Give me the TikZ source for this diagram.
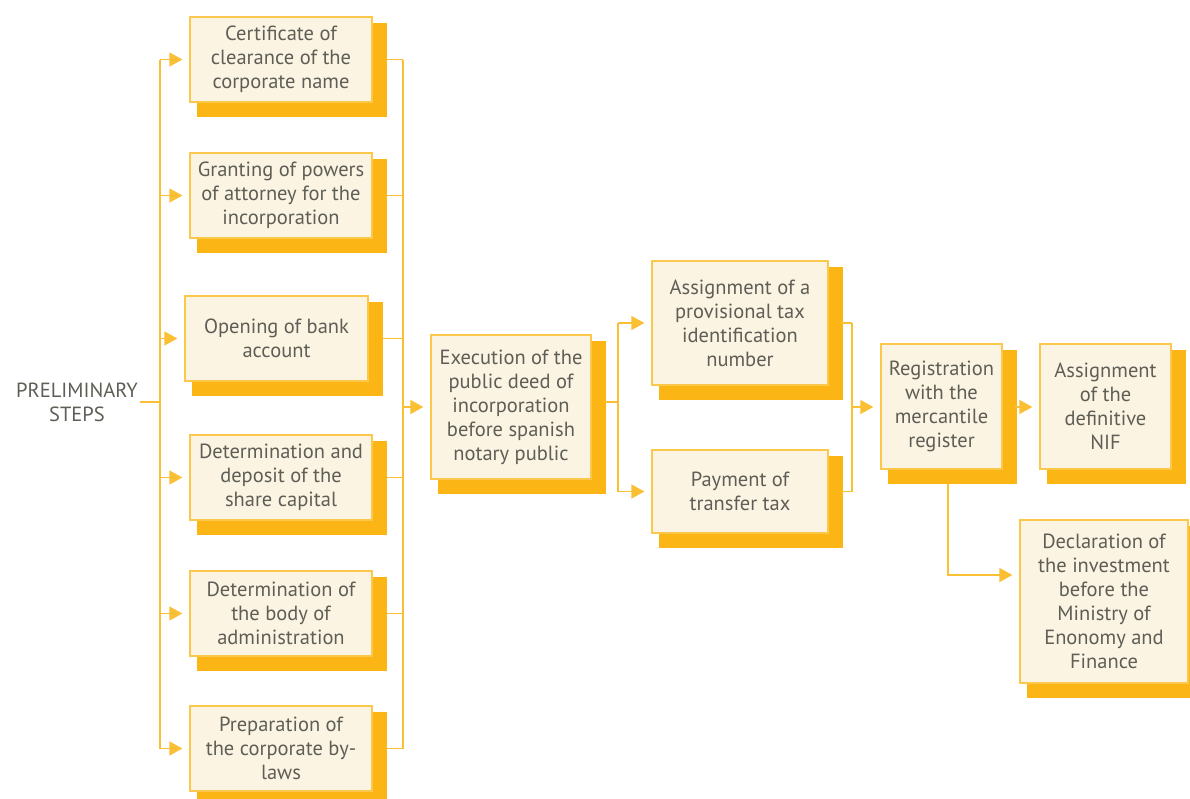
\documentclass[tikz,border=0pt]{standalone}
\usepackage{fontspec}
\setmainfont{PT Sans}
\usetikzlibrary{arrows.meta,backgrounds}
\definecolor{fillc}{HTML}{FCF4E3}
\definecolor{edgec}{HTML}{FCC84C}
\definecolor{shadc}{HTML}{FBB616}
\definecolor{linec}{HTML}{FBBF33}
\definecolor{txtc}{HTML}{5E5E56}
\tikzset{
  box/.style={draw=edgec, line width=1.3pt, fill=fillc, text=txtc, align=center, inner sep=0pt, font=\fontsize{20.5}{24}\selectfont},
  conn/.style={draw=linec, line width=1.4pt},
  arr/.style={conn, -{Triangle[length=13pt,width=14pt]}, shorten >=7pt}
}
\newcommand\bx[6]{%
  \node[box, minimum width=#4pt-#2pt, minimum height=#5pt-#3pt] (#1) at ({(#2+#4)/2},{(#3+#5)/2}) {#6};
  \begin{scope}[on background layer]
    \fill[shadc] ([shift={(8pt,-7pt)}]#1.north west) rectangle ([shift={(14pt,-14pt)}]#1.south east);
  \end{scope}}
\begin{document}
\begin{tikzpicture}[x=1pt,y=-1pt]
\useasboundingbox (0,0) rectangle (1190,798);
\bx{c1}{190}{17}{372}{102}{Certificate of\\clearance of the\\corporate name}
\bx{c2}{190}{153}{372}{238}{Granting of powers\\of attorney for the\\incorporation}
\bx{c3}{185}{296}{368}{381}{Opening of bank\\account}
\bx{c4}{190}{435}{372}{520}{Determination and\\deposit of the\\share capital}
\bx{c5}{190}{571}{372}{656}{Determination of\\the body of\\administration}
\bx{c6}{190}{706}{372}{791}{Preparation of\\the corporate by-\\laws}
\bx{ex}{431}{335}{591}{479}{Execution of the\\public deed of\\incorporation\\before spanish\\notary public}
\bx{ap}{652}{261}{828}{385}{Assignment of a\\provisional tax\\identification\\number}
\bx{pt}{652}{450}{828}{533}{Payment of\\transfer tax}
\bx{rg}{881}{344}{1002}{469}{Registration\\with the\\mercantile\\register}
\bx{nf}{1040}{344}{1171}{469}{Assignment\\of the\\definitive\\NIF}
\bx{dc}{1020}{520}{1188}{683}{Declaration of\\the investment\\before the\\Ministry of\\Enonomy and\\Finance}
\node[text=txtc, align=center, inner sep=0pt, font=\fontsize{20.5}{24}\selectfont] (pre) at (77,402) {PRELIMINARY\\STEPS};
\coordinate (bl) at (160,402);
\coordinate (br) at (403,407);
\coordinate (b2) at (618,402);
\coordinate (b3) at (852,407);
\coordinate (dd) at (948,575);
\draw[conn] ([xshift=2pt]pre.east) -- (bl);
\draw[conn] (bl |- c1.west) -- (bl |- c6.west);
\foreach \n in {c1,c2,c3,c4,c5,c6}{
  \draw[arr] (bl |- \n.west) -- (\n.west);
  \draw[conn] ([xshift=14pt]\n.east) -- (br |- \n.east);
}
\draw[conn] (br |- c1.east) -- (br |- c6.east);
\draw[arr] (br) -- (br -| ex.west);
\draw[conn] ([xshift=12pt]ex.east |- b2) -- (b2);
\draw[conn] (b2 |- ap.west) -- (b2 |- pt.west);
\draw[arr] (b2 |- ap.west) -- (ap.west);
\draw[arr] (b2 |- pt.west) -- (pt.west);
\draw[conn] ([xshift=12pt]ap.east) -- (b3 |- ap.east);
\draw[conn] ([xshift=12pt]pt.east) -- (b3 |- pt.east);
\draw[conn] (b3 |- ap.east) -- (b3 |- pt.east);
\draw[arr] (b3) -- (b3 -| rg.west);
\draw[arr] ([xshift=11pt]rg.east |- b3) -- (b3 -| nf.west);
\draw[arr] ([yshift=-14pt]rg.south -| dd) -- (dd) -- (dd -| dc.west);
\end{tikzpicture}
\end{document}
